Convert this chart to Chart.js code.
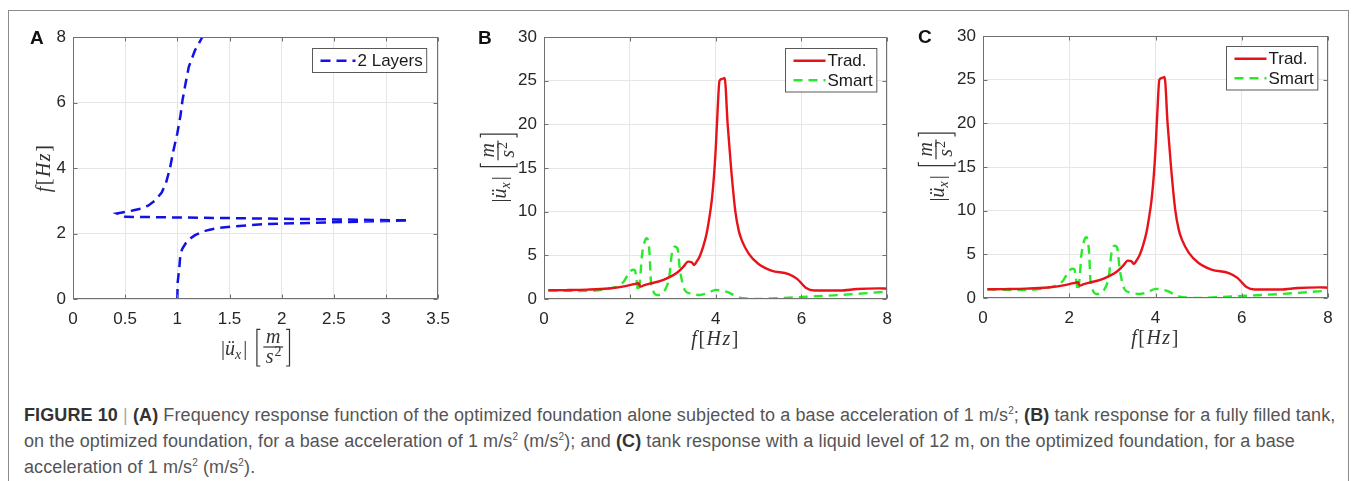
<!DOCTYPE html>
<html>
<head>
<meta charset="utf-8">
<script src="https://cdn.jsdelivr.net/npm/chart.js@4.4.1/dist/chart.umd.min.js"></script>
<style>
  body { margin: 0; background: #fff; width: 1356px; height: 481px; overflow: hidden; position: relative; }
  .frame { position: absolute; left: 8px; top: 10px; width: 1341px; height: 490px; border: 1px solid #8c8c8c; box-sizing: border-box; }
  .panel { position: absolute; top: 12px; height: 360px; }
  #caption { position: absolute; left: 24px; top: 402px; font-family: "Liberation Sans", Arial, sans-serif;
    font-size: 18px; letter-spacing: 0.1px; line-height: 26px; color: #555; white-space: nowrap; }
  #caption b { color: #333; }
  #caption .sep { color: #aaa; }
  #caption sup { font-size: 10px; line-height: 0; vertical-align: 7px; }
</style>
</head>
<body>
<div class="frame"></div>
<div class="panel" style="left:10px;width:450px"><canvas id="chartA"></canvas></div>
<div class="panel" style="left:462px;width:440px"><canvas id="chartB"></canvas></div>
<div class="panel" style="left:902px;width:446px"><canvas id="chartC"></canvas></div>
<div id="caption">
  <b>FIGURE 10</b> <span class="sep">|</span> <b>(A)</b> Frequency response function of the optimized foundation alone subjected to a base acceleration of 1 m/s<sup>2</sup>; <b>(B)</b> tank response for a fully filled tank,<br>
  on the optimized foundation, for a base acceleration of 1 m/s<sup>2</sup> (m/s<sup>2</sup>); and <b>(C)</b> tank response with a liquid level of 12 m, on the optimized foundation, for a base<br>
  acceleration of 1 m/s<sup>2</sup> (m/s<sup>2</sup>).
</div>
<script>
// Panel A: foundation FRF, amplitude on x, frequency on y (in frequency order)
const layersFreq = [0, 0.5, 0.99, 1.39, 1.55, 1.70, 1.84, 1.95, 2.04, 2.11, 2.17, 2.21, 2.29, 2.34, 2.38, 2.40,
  2.43, 2.47, 2.51, 2.61, 2.66, 2.70, 2.76, 2.85, 3.02, 3.25, 3.53, 4.0, 4.5, 5.06, 5.6, 6.08, 6.6, 7.09, 7.6, 8.0];
const layersAmp = [1.0, 1.003, 1.02, 1.03, 1.05, 1.08, 1.12, 1.17, 1.23, 1.30, 1.40, 1.52, 1.84, 2.47, 3.0, 3.22,
  2.5, 1.5, 0.5, 0.42, 0.5, 0.57, 0.65, 0.72, 0.79, 0.85, 0.89, 0.93, 0.96, 1.0, 1.03, 1.05, 1.08, 1.11, 1.17, 1.24];
const ampTicksA = [0, 0.5, 1, 1.5, 2, 2.5, 3, 3.5];
const freqTicksA = [0, 2, 4, 6, 8];

// Panels B and C: tank response
const tradFreq = [0.1, 0.5, 1.0, 1.5, 1.9, 2.1, 2.2, 2.25, 2.32, 2.5, 2.7, 2.9, 3.1, 3.25, 3.36, 3.44, 3.5, 3.56, 3.63,
  3.71, 3.79, 3.85, 3.91, 3.96, 4.0, 4.04, 4.09, 4.15, 4.21, 4.28, 4.36, 4.46, 4.54, 4.62, 4.77, 5.0, 5.3, 5.7, 5.9,
  6.1, 6.3, 6.9, 7.3, 7.8, 8.0];
const tradAmp = [1.0, 1.02, 1.07, 1.2, 1.48, 1.7, 1.8, 1.42, 1.55, 1.8, 2.05, 2.45, 3.0, 3.7, 4.28, 4.2, 3.9, 4.3, 4.9,
  6.0, 7.5, 9.2, 11.3, 14.0, 17.0, 21.0, 25.0, 25.2, 25.3, 20.0, 15.0, 10.0, 7.8, 6.6, 5.2, 4.0, 3.25, 2.85, 2.3,
  1.3, 0.98, 0.97, 1.15, 1.22, 1.18];
const smartFreq = [0.1, 0.8, 1.55, 1.85, 1.97, 2.07, 2.12, 2.15, 2.20, 2.24, 2.28, 2.36, 2.40, 2.46, 2.49, 2.55, 2.63,
  2.82, 2.92, 2.98, 3.05, 3.11, 3.17, 3.28, 3.40, 3.63, 3.85, 4.0, 4.25, 4.56, 4.75, 4.95, 5.32, 6.1, 6.9, 8.0];
const smartAmp = [1.0, 0.92, 1.22, 1.95, 2.9, 3.35, 3.3, 2.4, 0.84, 2.3, 4.85, 6.76, 6.95, 5.2, 2.1, 0.84, 0.46,
  1.03, 2.56, 5.2, 6.0, 5.8, 3.3, 1.03, 0.65, 0.46, 0.75, 1.05, 0.84, 0.15, 0.05, 0.0, 0.07, 0.26, 0.46, 0.84];
const freqTicks = [0, 2, 4, 6, 8];
const ampTicks = [0, 5, 10, 15, 20, 25, 30];

const toPoints = (xs, ys) => xs.map((x, i) => ({ x: x, y: ys[i] }));

const SANS = '"Liberation Sans", Arial, sans-serif';
const SERIF = '"Liberation Serif", "Times New Roman", serif';

// draws f[Hz] centred on (0,0)
function drawFreqLabel(ctx, s) {
  const parts = [['f', true], ['[', false], ['H', true], ['z', true], [']', false]];
  let w = 0;
  parts.forEach(p => { ctx.font = (p[1] ? 'italic ' : '') + s + 'px ' + SERIF; w += ctx.measureText(p[0]).width + 1.5; });
  let x = -w / 2;
  ctx.textBaseline = 'alphabetic';
  parts.forEach(p => {
    ctx.font = (p[1] ? 'italic ' : '') + s + 'px ' + SERIF;
    ctx.fillText(p[0], x, s * 0.33);
    x += ctx.measureText(p[0]).width + 1.5;
  });
}

// big bracket drawn as strokes, spanning y0..y1
function bracket(ctx, x, y0, y1, open) {
  const arm = 4;
  ctx.save();
  ctx.lineWidth = 1.2;
  ctx.strokeStyle = ctx.fillStyle;
  ctx.beginPath();
  const vx = open ? x + 0.6 : x + arm - 0.6;
  const ex = open ? x + arm : x;
  ctx.moveTo(ex, y0); ctx.lineTo(vx, y0); ctx.lineTo(vx, y1); ctx.lineTo(ex, y1);
  ctx.stroke();
  ctx.restore();
}

// draws |ü_x| [m/s²] with the fraction bar on y = 0, centred on x = 0
function drawAccelLabel(ctx, s) {
  const it = 'italic ' + s + 'px ' + SERIF;
  const up = s + 'px ' + SERIF;
  const small = 'italic ' + Math.round(s * 0.7) + 'px ' + SERIF;
  const smallUp = Math.round(s * 0.7) + 'px ' + SERIF;
  const m = (f, t) => { ctx.font = f; return ctx.measureText(t).width; };
  const wBar = m(up, '|'), wU = m(it, 'ü'), wX = m(small, 'x');
  const wS = m(it, 's');
  const wNum = m(it, 'm'), wDen = wS + m(smallUp, '2');
  const wFrac = Math.max(wNum, wDen) + s * 0.25;
  const gap = s * 0.45, brW = 4;
  const total = wBar * 2 + wU + wX + 2 + gap + brW * 2 + wFrac + 6;
  let x = -total / 2;
  const base = s * 0.4;
  ctx.textBaseline = 'alphabetic';
  ctx.font = up; ctx.fillText('|', x, base); x += wBar;
  ctx.font = it; ctx.fillText('ü', x, base); x += wU;
  ctx.font = small; ctx.fillText('x', x, base + s * 0.2); x += wX + 2;
  ctx.font = up; ctx.fillText('|', x, base); x += wBar;
  x += gap;
  bracket(ctx, x, -s * 0.88, s * 0.95, true);
  x += brW + 3;
  ctx.font = it; ctx.fillText('m', x + (wFrac - wNum) / 2, -s * 0.2);
  ctx.fillText('s', x + (wFrac - wDen) / 2, s * 0.78);
  ctx.font = smallUp; ctx.fillText('2', x + (wFrac - wDen) / 2 + wS + 1, s * 0.45);
  ctx.fillRect(x, -0.6, wFrac, 1.2);
  x += wFrac + 3;
  bracket(ctx, x, -s * 0.88, s * 0.95, false);
}

// MATLAB-look: box, inward ticks, in-axes legend, panel letter, math axis labels
const matlabLook = {
  id: 'matlabLook',
  afterDatasetsDraw(chart, args, o) {
    const ctx = chart.ctx, a = chart.chartArea;
    const xs = chart.scales.x, ys = chart.scales.y;
    ctx.save();
    ctx.strokeStyle = '#707070';
    ctx.lineWidth = 1;
    const L = Math.round(a.left) + 0.5, R = Math.round(a.right) - 0.5;
    const T = Math.round(a.top) + 0.5, B = Math.round(a.bottom) - 0.5;
    ctx.strokeRect(L, T, R - L, B - T);
    ctx.beginPath();
    xs.ticks.forEach(t => {
      const px = Math.round(xs.getPixelForValue(t.value)) + 0.5;
      ctx.moveTo(px, B); ctx.lineTo(px, B - 4);
      ctx.moveTo(px, T); ctx.lineTo(px, T + 4);
    });
    ys.ticks.forEach(t => {
      const py = Math.round(ys.getPixelForValue(t.value)) + 0.5;
      ctx.moveTo(L, py); ctx.lineTo(L + 4, py);
      ctx.moveTo(R, py); ctx.lineTo(R - 4, py);
    });
    ctx.stroke();

    // legend
    const sets = chart.data.datasets;
    ctx.font = '17px ' + SANS;
    const textW = Math.max(...sets.map(d => ctx.measureText(d.label).width));
    const sample = o.legendSample, rowH = 19.5;
    const boxW = 8 + sample + 2 + textW + 4;
    const boxH = sets.length * rowH + 4.5;
    const bx = Math.round(a.right - o.legendRight - boxW) + 0.5;
    const by = Math.round(a.top + o.legendTop) + 0.5;
    ctx.fillStyle = '#fff';
    ctx.fillRect(bx, by, boxW, boxH);
    ctx.strokeStyle = '#5a5a5a';
    ctx.strokeRect(bx, by, boxW, boxH);
    sets.forEach((d, i) => {
      const cy = by + 2.5 + rowH * i + rowH / 2;
      ctx.save();
      ctx.strokeStyle = d.borderColor;
      ctx.lineWidth = d.borderWidth;
      ctx.setLineDash(d.borderDash || []);
      ctx.beginPath(); ctx.moveTo(bx + 8, cy); ctx.lineTo(bx + 8 + sample, cy); ctx.stroke();
      ctx.restore();
      ctx.fillStyle = '#1a1a1a';
      ctx.textBaseline = 'middle';
      ctx.fillText(d.label, bx + 8 + sample + 2, cy + 1);
    });

    // panel letter
    ctx.fillStyle = '#111';
    ctx.font = 'bold 19px ' + SANS;
    ctx.textBaseline = 'middle';
    ctx.fillText(o.letter, a.left + o.letterDx, a.top + 2);

    // axis labels
    ctx.fillStyle = '#333';
    const cx = (a.left + a.right) / 2, cy = (a.top + a.bottom) / 2;
    ctx.save();
    ctx.translate(cx, a.bottom + o.xLabelDy);
    (o.xLabel === 'accel' ? drawAccelLabel : drawFreqLabel)(ctx, 20);
    ctx.restore();
    ctx.save();
    ctx.translate(a.left + o.yLabelDx, cy);
    ctx.rotate(-Math.PI / 2);
    (o.yLabel === 'accel' ? drawAccelLabel : drawFreqLabel)(ctx, 20);
    ctx.restore();
    ctx.restore();
  }
};

function axis(min, max, tickList, fitKey, fitSize, pad) {
  return {
    type: 'linear', min: min, max: max,
    afterBuildTicks: s => { s.ticks = tickList.map(v => ({ value: v })); },
    afterFit: s => { s[fitKey] = fitSize; },
    ticks: { color: '#262626', font: { family: SANS, size: 17 }, padding: pad, autoSkip: false,
      callback: v => String(v) },
    grid: { color: '#e6e6e6', drawTicks: false },
    border: { display: false }
  };
}

function makeChart(id, datasets, xr, yr, pad, look) {
  return new Chart(document.getElementById(id), {
    type: 'scatter',
    data: { datasets: datasets },
    options: {
      responsive: true,
      maintainAspectRatio: false,
      animation: false,
      devicePixelRatio: 1,
      layout: { padding: pad.layout },
      scales: {
        x: axis(xr[0], xr[1], xr[2], 'height', pad.xh, 10),
        y: axis(yr[0], yr[1], yr[2], 'width', pad.yw, 7)
      },
      plugins: { legend: { display: false }, tooltip: { enabled: false }, matlabLook: look }
    },
    plugins: [matlabLook]
  });
}

const lineStyle = { showLine: true, pointRadius: 0, fill: false };

makeChart('chartA', [
  Object.assign({ label: '2 Layers', data: toPoints(layersAmp, layersFreq), borderColor: '#1212e6',
    borderWidth: 2.5, borderDash: [10, 6], tension: 0 }, lineStyle)
], [0, 3.5, ampTicksA], [0, 8, freqTicksA],
  { layout: { top: 25, right: 18, left: 0, bottom: 0 }, xh: 73, yw: 63 },
  { letter: 'A', letterDx: -43, xLabel: 'accel', xLabelDy: 48, yLabel: 'freq', yLabelDx: -30,
    legendRight: 12, legendTop: 11, legendSample: 35 });

function tankSets() {
  return [
    Object.assign({ label: 'Trad.', data: toPoints(tradFreq, tradAmp), borderColor: '#e8121a', borderWidth: 2.4,
      cubicInterpolationMode: 'monotone' }, lineStyle),
    Object.assign({ label: 'Smart', data: toPoints(smartFreq, smartAmp), borderColor: '#28ea28', borderWidth: 2.4,
      borderDash: [9, 6], cubicInterpolationMode: 'monotone' }, lineStyle)
  ];
}

makeChart('chartB', tankSets(), [0, 8, freqTicks], [0, 30, ampTicks],
  { layout: { top: 25, right: 13, left: 0, bottom: 0 }, xh: 73, yw: 82 },
  { letter: 'B', letterDx: -66, xLabel: 'freq', xLabelDy: 39, yLabel: 'accel', yLabelDx: -46,
    legendRight: 11, legendTop: 11, legendSample: 32 });

makeChart('chartC', tankSets(), [0, 8, freqTicks], [0, 30, ampTicks],
  { layout: { top: 24, right: 20, left: 0, bottom: 0 }, xh: 74, yw: 81 },
  { letter: 'C', letterDx: -65, xLabel: 'freq', xLabelDy: 39, yLabel: 'accel', yLabelDx: -47,
    legendRight: 11, legendTop: 10, legendSample: 32 });
</script>
</body>
</html>
